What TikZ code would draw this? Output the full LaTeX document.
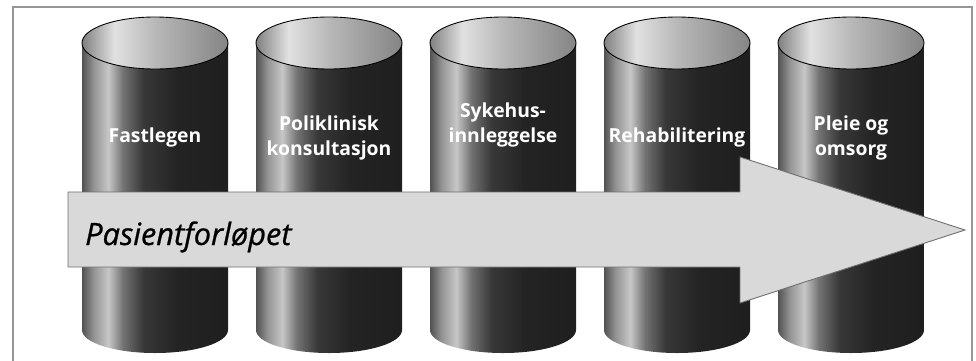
\documentclass[tikz,border=0pt]{standalone}
\usepackage{fontspec}
\setsansfont{Open Sans}
\usepackage{tikz}
\usepackage{xcolor}
\definecolor{framegray}{RGB}{150,150,150}
\definecolor{arrowfill}{RGB}{217,217,217}
\definecolor{arrowline}{RGB}{110,110,110}

% shading of the cylinder walls and lids
\pgfdeclarehorizontalshading{cylwall}{100bp}{color(0bp)=(black!68); color(25bp)=(black!68);
  color(29bp)=(black!42); color(34bp)=(black!22); color(39bp)=(black!55);
  color(46bp)=(black!78); color(57.5bp)=(black!86); color(75bp)=(black!88); color(100bp)=(black!88)}
\pgfdeclarehorizontalshading{cyllid}{100bp}{color(0bp)=(black!50); color(25bp)=(black!50);
  color(36bp)=(black!12); color(50bp)=(black!28); color(75bp)=(black!48); color(100bp)=(black!48)}

\tikzset{
  pillar label/.style={text=white, font=\sffamily\bfseries\fontsize{11}{14}\selectfont, align=center},
  flow label/.style={font=\sffamily\itshape\fontsize{17.5}{20}\selectfont\addfontfeatures{FakeBold=0.8}, anchor=base west}
}

\begin{document}
\begin{tikzpicture}[x=0.02cm, y=0.02cm]
    \useasboundingbox (0, 0) rectangle (976, 360);

    % Frame
    \draw[framegray, line width=0.9pt] (13, -5) -- (13, 353) -- (972, 353) -- (972, -5);

    % Cylinders
    \foreach \cx in {155, 329, 503, 677, 851} {
        \shade[shading=cylwall]
            (\cx-73, 317) -- (\cx-73, 30) arc (180:360:73 and 23) -- (\cx+73, 317) -- cycle;
        \shade[shading=cyllid, draw=black, line width=0.5pt]
            (\cx, 317) ellipse (73 and 26);
    }

    % Labels on the cylinders
    \node[pillar label] (fastlege) at (155, 223) {Fastlegen};
    \node[pillar label] (poliklinikk) at (329, 222) {Poliklinisk\\konsultasjon};
    \node[pillar label] (sykehus) at (503, 235) {Sykehus-\\innleggelse};
    \node[pillar label] (rehab) at (677, 223) {Rehabilitering};
    \node[pillar label] (pleie) at (851, 222) {Pleie og\\omsorg};

    % Patient flow arrow
    \filldraw[fill=arrowfill, draw=arrowline, line width=0.5pt]
        (68, 168) -- (740, 168) -- (740, 203) -- (965, 130)
        -- (740, 57) -- (740, 93) -- (68, 93) -- cycle;
    \node[flow label] (forlop) at (79, 115) {Pasientforløpet};
\end{tikzpicture}
\end{document}
